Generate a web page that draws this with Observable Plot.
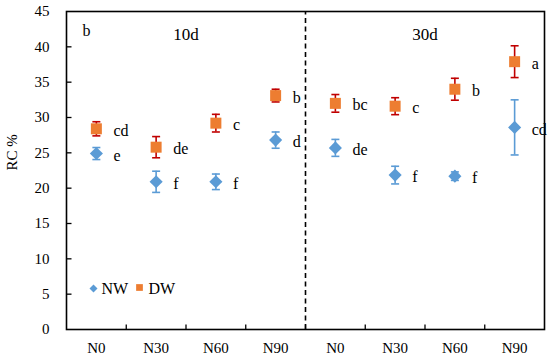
<!DOCTYPE html>
<html><head><meta charset="utf-8">
<script src="https://cdn.jsdelivr.net/npm/d3@7"></script>
<script src="https://cdn.jsdelivr.net/npm/@observablehq/plot@0.6"></script>
<style>
body{margin:0;background:#fff;}
</style>
</head><body><div id="chart"></div>
<script>
const panels = ["10d", "30d"];
const categories = ["N0","N30","N60","N90","N0","N30","N60","N90"];
const nwMean = [24.9, 20.9, 20.9, 26.8, 25.7, 21.85, 21.7, 28.6];
const nwErr  = [0.85, 1.5, 1.1, 1.15, 1.2, 1.25, 0.6, 3.9];
const nwLetters = ["e","f","f","d","de","f","f","cd"];
const dwMean = [28.4, 25.8, 29.2, 33.1, 32.0, 31.6, 34.0, 37.9];
const dwErr  = [1.0, 1.5, 1.25, 0.9, 1.25, 1.2, 1.55, 2.25];
const dwLetters = ["cd","de","c","b","bc","c","b","a"];
const panelTag = "b";
const yLabel = "RC %";
const yTicks = [0,5,10,15,20,25,30,35,40,45];

const blue = "#5B9BD5", orange = "#ED7D31", red = "#C00000";
const font = "Liberation Serif, DejaVu Serif, serif";

const rows = [];
categories.forEach((c, i) => {
  rows.push({series: "NW", x: i + 0.5, y: nwMean[i], lo: nwMean[i] - nwErr[i], hi: nwMean[i] + nwErr[i], label: nwLetters[i]});
  rows.push({series: "DW", x: i + 0.5, y: dwMean[i], lo: dwMean[i] - dwErr[i], hi: dwMean[i] + dwErr[i], label: dwLetters[i]});
});
const nw = rows.filter(d => d.series === "NW");
const dw = rows.filter(d => d.series === "DW");
const caps = rows.flatMap(d => [{...d, cy: d.lo}, {...d, cy: d.hi}]);
const capSymbol = {draw(ctx) { ctx.moveTo(-4, 0); ctx.lineTo(4, 0); }};
const catCenters = categories.map((c, i) => i + 0.5);
const boundaries = d3.range(1, categories.length);
const panelRows = panels.map((p, k) => ({text: p, x: (k + 0.5) * categories.length / panels.length}));
const divider = [categories.length / panels.length];

const chart = Plot.plot({
  width: 550, height: 360,
  marginLeft: 66, marginRight: 6, marginTop: 11, marginBottom: 31,
  style: {fontFamily: font, background: "#fff", color: "#000"},
  x: {domain: [0, categories.length]},
  y: {domain: [0, 45]},
  marks: [
    Plot.ruleX(divider, {x: d => d, y1: 0, y2: 45, stroke: "#000", strokeWidth: 1.6, strokeDasharray: "5,3.5"}),
    Plot.axisY({ticks: yTicks, tickSize: 0, tickPadding: 17, fontSize: 15, label: null}),
    Plot.text([yLabel], {text: d => d, frameAnchor: "left", dx: -54, rotate: -90, fontSize: 15, fill: "#000"}),
    Plot.axisX({ticks: catCenters, tickSize: 0, tickPadding: 13, fontSize: 15, tickFormat: d => categories[Math.floor(d)], label: null}),
    Plot.dot(yTicks.slice(1, -1), {x: 0, y: d => d, symbol: {draw(ctx){ ctx.moveTo(0,0); ctx.lineTo(5,0);} }, stroke: "#000", strokeWidth: 1.3}),
    Plot.dot(boundaries, {x: d => d, y: 0, symbol: {draw(ctx){ ctx.moveTo(0,0); ctx.lineTo(0,-5);} }, stroke: "#000", strokeWidth: 1.3}),
    Plot.ruleX(nw, {x: "x", y1: "lo", y2: "hi", stroke: blue, strokeWidth: 1.6}),
    Plot.ruleX(dw, {x: "x", y1: "lo", y2: "hi", stroke: red, strokeWidth: 1.6}),
    Plot.dot(caps, {x: "x", y: "cy", symbol: capSymbol, stroke: d => d.series === "NW" ? blue : red, strokeWidth: 1.6}),
    Plot.dot(nw, {x: "x", y: "y", symbol: "diamond2", r: 5.9, fill: blue, stroke: null}),
    Plot.dot(dw, {x: "x", y: "y", symbol: "square", r: 6.2, fill: orange, stroke: null}),
    Plot.text(rows, {x: "x", y: "y", text: "label", dx: 17, dy: 2, textAnchor: "start", fontSize: 16, fill: "#000"}),
    Plot.text(panelRows, {x: "x", text: "text", frameAnchor: "top", lineAnchor: "middle", dy: 23, fontSize: 17, fill: "#000"}),
    Plot.text([panelTag], {text: d => d, frameAnchor: "top-left", lineAnchor: "middle", textAnchor: "start", dx: 16, dy: 19, fontSize: 16, fill: "#000"}),
    Plot.dot(["NW"], {frameAnchor: "bottom-left", dx: 27, dy: -41, symbol: "diamond2", r: 3.6, fill: blue}),
    Plot.text(["NW"], {text: d => d, frameAnchor: "bottom-left", lineAnchor: "middle", dx: 35, dy: -41, textAnchor: "start", fontSize: 16, fill: "#000"}),
    Plot.dot(["DW"], {frameAnchor: "bottom-left", dx: 73, dy: -42, symbol: "square", r: 3.8, fill: orange}),
    Plot.text(["DW"], {text: d => d, frameAnchor: "bottom-left", lineAnchor: "middle", dx: 82, dy: -41, textAnchor: "start", fontSize: 16, fill: "#000"}),
    Plot.frame({stroke: "#000", strokeWidth: 1.6})
  ]
});
chart.querySelectorAll("text").forEach(t => t.style.fontFamily = font);
document.getElementById("chart").appendChild(chart);
</script></body></html>
